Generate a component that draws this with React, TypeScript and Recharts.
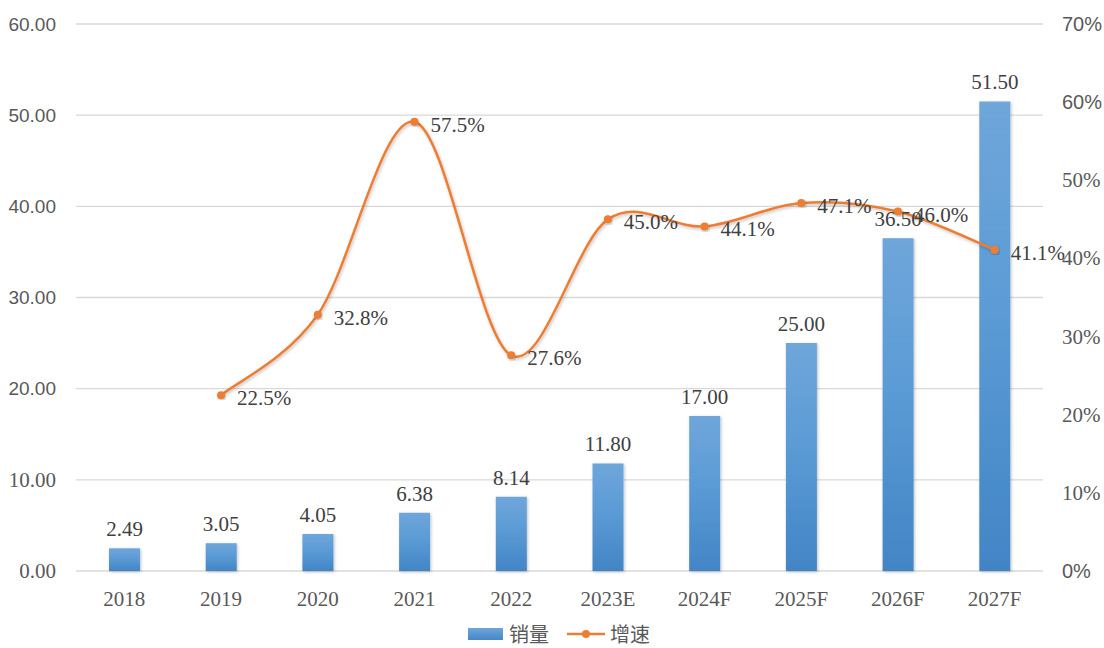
import React from "react";
import {
  ComposedChart,
  Bar,
  Line,
  XAxis,
  YAxis,
  CartesianGrid,
  LabelList,
  Legend,
} from "recharts";

const categories = ["2018", "2019", "2020", "2021", "2022", "2023E", "2024F", "2025F", "2026F", "2027F"];
const sales = [2.49, 3.05, 4.05, 6.38, 8.14, 11.8, 17.0, 25.0, 36.5, 51.5];
const growth: (number | null)[] = [null, 22.5, 32.8, 57.5, 27.6, 45.0, 44.1, 47.1, 46.0, 41.1];
const leftTicks = [0, 10, 20, 30, 40, 50, 60];
const rightTicks = [0, 10, 20, 30, 40, 50, 60, 70];

const data = categories.map((c, i) => ({ name: c, sales: sales[i], growth: growth[i] }));

const SERIF = "'Liberation Serif', 'Times New Roman', serif";
const SANS = "'Liberation Sans', Arial, sans-serif";
const CJK = "'Noto Sans CJK SC', sans-serif";
const TEXT = "#595959";
const LABEL = "#404040";

// Excel-like smoothed curve (uniform Catmull-Rom as cubic Bezier)
function excelCurve(context: any) {
  let pts: [number, number][] = [];
  return {
    areaStart() {},
    areaEnd() {},
    lineStart() {
      pts = [];
    },
    point(x: number, y: number) {
      pts.push([+x, +y]);
    },
    lineEnd() {
      const n = pts.length;
      if (n === 0) return;
      context.moveTo(pts[0][0], pts[0][1]);
      if (n === 1) return;
      for (let i = 0; i < n - 1; i++) {
        const p0 = pts[i - 1] || pts[i];
        const p1 = pts[i];
        const p2 = pts[i + 1];
        const p3 = pts[i + 2] || pts[i + 1];
        const c1x = p1[0] + (p2[0] - p0[0]) / 6;
        const c1y = p1[1] + (p2[1] - p0[1]) / 6;
        const c2x = p2[0] - (p3[0] - p1[0]) / 6;
        const c2y = p2[1] - (p3[1] - p1[1]) / 6;
        context.bezierCurveTo(c1x, c1y, c2x, c2y, p2[0], p2[1]);
      }
    },
  };
}

const LeftTick = (props: any) => {
  const { x, y, payload } = props;
  const v = payload.value as number;
  const sans = v >= 20;
  return (
    <text
      x={x - 20}
      y={y}
      textAnchor="end"
      dominantBaseline="central"
      fill={TEXT}
      fontFamily={sans ? SANS : SERIF}
      fontSize={sans ? 19 : 21}
    >
      {v.toFixed(2)}
    </text>
  );
};

const RightTick = (props: any) => {
  const { x, y, payload } = props;
  const v = payload.value as number;
  const sans = v === 70 || v === 60 || v === 0;
  return (
    <text
      x={x + 19}
      y={y}
      textAnchor="start"
      dominantBaseline="central"
      fill={TEXT}
      fontFamily={sans ? SANS : SERIF}
      fontSize={sans ? 20 : 21}
    >
      {`${v}%`}
    </text>
  );
};

const XTick = (props: any) => {
  const { x, y, payload } = props;
  return (
    <text x={x} y={y + 35} textAnchor="middle" fill={TEXT} fontFamily={SERIF} fontSize={21}>
      {payload.value}
    </text>
  );
};

const BarLabel = (props: any) => {
  const { x, y, width, value } = props;
  if (value == null) return null;
  return (
    <text x={x + width / 2} y={y - 12} textAnchor="middle" fill={LABEL} fontFamily={SERIF} fontSize={21}>
      {Number(value).toFixed(2)}
    </text>
  );
};

const LineLabel = (props: any) => {
  const { x, y, value } = props;
  if (value == null) return null;
  return (
    <text x={x + 16} y={y + 3} textAnchor="start" dominantBaseline="central" fill={LABEL} fontFamily={SERIF} fontSize={21}>
      {`${Number(value).toFixed(1)}%`}
    </text>
  );
};

const LegendContent = () => (
  <div
    style={{
      height: 44,
      display: "flex",
      justifyContent: "center",
      alignItems: "flex-start",
      paddingTop: 15,
      boxSizing: "border-box",
      fontFamily: CJK,
      fontSize: 20,
      color: TEXT,
      lineHeight: "29px",
    }}
  >
    <div style={{ display: "flex", alignItems: "center", marginLeft: 14, height: 29 }}>
      <svg width={35} height={12} style={{ marginRight: 6 }}>
        <defs>
          <linearGradient id="legGrad" x1="0" y1="0" x2="0" y2="1">
            <stop offset="0%" stopColor="#6FA6DA" />
            <stop offset="100%" stopColor="#4487C7" />
          </linearGradient>
        </defs>
        <rect x={0} y={0} width={35} height={12} fill="url(#legGrad)" />
      </svg>
      <span>销量</span>
    </div>
    <div style={{ display: "flex", alignItems: "center", marginLeft: 18, height: 29 }}>
      <svg width={38} height={12} style={{ marginRight: 5 }}>
        <line x1={0} y1={6} x2={38} y2={6} stroke="#ED7D31" strokeWidth={2.5} />
        <circle cx={19} cy={6} r={4} fill="#ED7D31" />
      </svg>
      <span>增速</span>
    </div>
  </div>
);

export default function App() {
  return (
    <div style={{ width: 1104, height: 648, background: "#fff" }}>
      <style>{`body{margin:0;background:#fff;}`}</style>
      <ComposedChart
        width={1104}
        height={648}
        data={data}
        margin={{ top: 24, right: 0, bottom: 0, left: 0 }}
        barCategoryGap={0}
      >
        <defs>
          <linearGradient id="barGrad" x1="0" y1="0" x2="0" y2="1">
            <stop offset="0%" stopColor="#6FA6DA" />
            <stop offset="45%" stopColor="#5B9BD5" />
            <stop offset="100%" stopColor="#4285C6" />
          </linearGradient>
          <filter id="barShadow" x="-30%" y="-10%" width="160%" height="120%">
            <feDropShadow dx="1" dy="1" stdDeviation="1.5" floodColor="#000" floodOpacity="0.25" />
          </filter>
          <filter id="lineShadow" x="-10%" y="-10%" width="120%" height="120%">
            <feDropShadow dx="1" dy="1.5" stdDeviation="1.5" floodColor="#000" floodOpacity="0.25" />
          </filter>
        </defs>
        <CartesianGrid horizontal vertical={false} stroke="#D9D9D9" strokeWidth={1.3} yAxisId="left" />
        <XAxis
          dataKey="name"
          axisLine={false}
          tickLine={false}
          tickSize={0}
          tickMargin={0}
          height={33}
          tick={<XTick />}
          interval={0}
        />
        <YAxis
          yAxisId="left"
          orientation="left"
          domain={[0, 60]}
          ticks={leftTicks}
          width={76}
          axisLine={false}
          tickLine={false}
          tickSize={0}
          tickMargin={0}
          tick={<LeftTick />}
          interval={0}
        />
        <YAxis
          yAxisId="right"
          orientation="right"
          domain={[0, 70]}
          ticks={rightTicks}
          width={61}
          axisLine={false}
          tickLine={false}
          tickSize={0}
          tickMargin={0}
          tick={<RightTick />}
          interval={0}
        />
        <Legend verticalAlign="bottom" align="center" content={<LegendContent />} />
        <Bar
          yAxisId="left"
          dataKey="sales"
          name="销量"
          barSize={31}
          fill="url(#barGrad)"
          filter="url(#barShadow)"
          isAnimationActive={false}
        >
          <LabelList dataKey="sales" content={<BarLabel />} />
        </Bar>
        <Line
          yAxisId="right"
          dataKey="growth"
          name="增速"
          type={excelCurve as any}
          stroke="#ED7D31"
          strokeWidth={2.5}
          dot={{ r: 4, fill: "#ED7D31", stroke: "#ED7D31", strokeWidth: 0 }}
          activeDot={false}
          filter="url(#lineShadow)"
          isAnimationActive={false}
        >
          <LabelList dataKey="growth" content={<LineLabel />} />
        </Line>
      </ComposedChart>
    </div>
  );
}
